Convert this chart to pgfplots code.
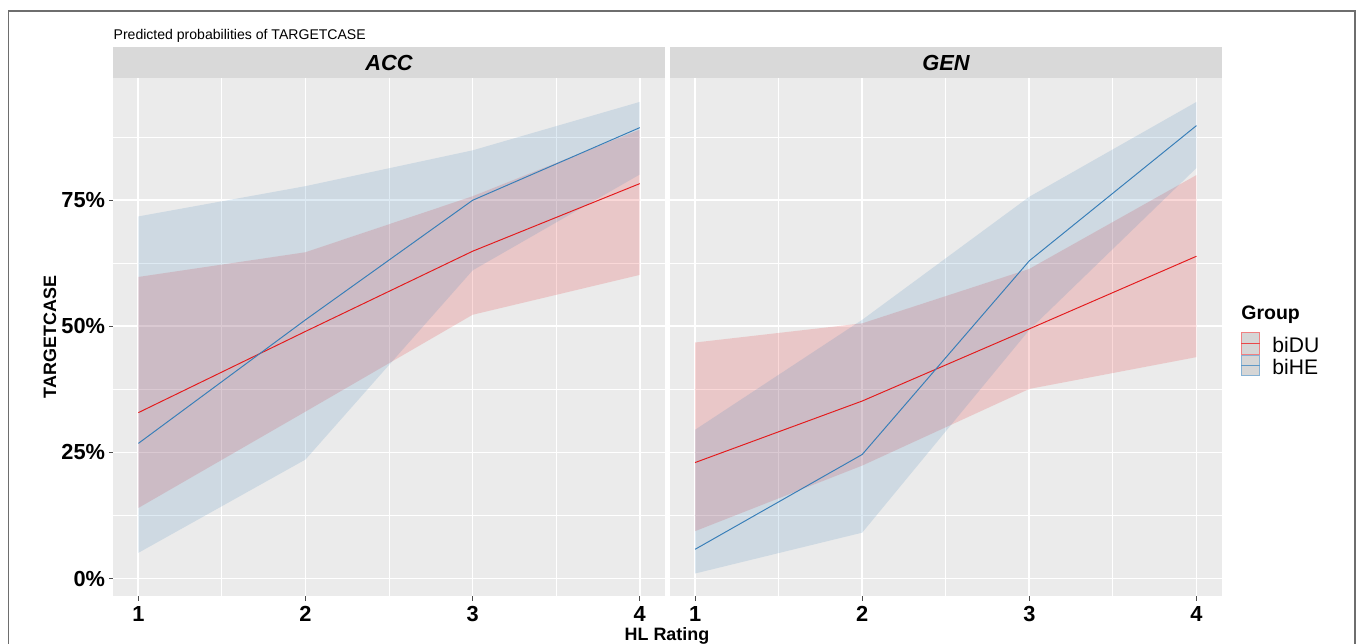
\documentclass[border=0pt]{standalone}
\usepackage{pgfplots}
\usepackage{pgfplotstable}
\usepackage{fontspec}
\setmainfont{Liberation Sans}
\pgfplotsset{compat=1.18}
\usepgfplotslibrary{fillbetween}

\definecolor{panelbg}{HTML}{EBEBEB}
\definecolor{stripbg}{HTML}{D9D9D9}
\definecolor{duRed}{HTML}{E41A1C}
\definecolor{heBlue}{HTML}{377EB8}
\definecolor{framegray}{HTML}{6E6E6E}
\definecolor{keybg}{HTML}{D6D6D6}

% predicted probabilities: r = biDU, b = biHE (line, lower, upper)
\pgfplotstableread{
x  r     rlo   rhi   b     blo   bhi
1  0.329 0.140 0.598 0.268 0.051 0.718
2  0.490 0.331 0.647 0.513 0.236 0.778
3  0.649 0.523 0.758 0.750 0.611 0.849
4  0.783 0.602 0.890 0.894 0.801 0.945
}\acc
\pgfplotstableread{
x  r     rlo   rhi   b     blo   bhi
1  0.230 0.094 0.468 0.058 0.010 0.295
2  0.352 0.224 0.506 0.246 0.091 0.513
3  0.495 0.376 0.614 0.630 0.493 0.757
4  0.639 0.439 0.800 0.898 0.814 0.945
}\gen

\newcommand\tickfont{\fontsize{12.4}{14}\selectfont\bfseries}
\newcommand\labfont{\fontsize{10.2}{12}\selectfont\bfseries}

\pgfplotsset{
  panel/.style={
    scale only axis, width=11.03cm, height=10.37cm,
    anchor=north west,
    xmin=0.85, xmax=4.15, ymin=-0.035, ymax=0.993,
    axis background/.style={fill=panelbg},
    axis line style={draw=none},
    xtick={1,2,3,4}, xticklabels={1,2,3,4},
    ytick={0,0.25,0.5,0.75},
    minor xtick={1.5,2.5,3.5},
    minor ytick={0.125,0.375,0.625,0.875},
    grid=both,
    major grid style={white, line width=1pt},
    minor grid style={white, line width=0.5pt},
    tick align=outside, tick pos=left,
    major tick length=0.09cm, minor tick length=0pt,
    tick style={gray!60!black, line width=0.5pt},
    ticklabel style={font=\tickfont, text=black},
    yticklabel style={xshift=0.05cm},
    xticklabel style={inner sep=0pt, yshift=-0.10cm},
  },
  ribbon/.style={draw=none, forget plot},
}

\begin{document}
\begin{tikzpicture}
% frame of the figure
\draw[framegray, line width=0.04cm] (0.17,-13.5) -- (0.17,-0.22) -- (27.1,-0.22) -- (27.1,-13.5);

% strips
\fill[stripbg] (2.266,-0.94) rectangle (13.30,-1.554);
\fill[stripbg] (13.40,-0.94) rectangle (24.434,-1.554);
\node[font=\fontsize{12.4}{14}\selectfont\bfseries\itshape] at (7.78,-1.25) {ACC};
\node[font=\fontsize{12.4}{14}\selectfont\bfseries\itshape] at (18.92,-1.25) {GEN};
\node[anchor=base west, font=\fontsize{8}{9}\selectfont, inner sep=0pt] at (2.266,-0.78) {Predicted probabilities of TARGETCASE};

\begin{axis}[panel, at={(2.266cm,-1.554cm)},
  yticklabels={0\%,25\%,50\%,75\%}]
\addplot[duRed, line width=0.55pt] table[x=x, y=r] {\acc};
\addplot[heBlue, line width=0.55pt] table[x=x, y=b] {\acc};
\addplot[ribbon, name path=ahi] table[x=x, y=rhi] {\acc};
\addplot[ribbon, name path=alo] table[x=x, y=rlo] {\acc};
\addplot[fill=duRed, fill opacity=0.17, draw=none] fill between[of=ahi and alo];
\addplot[ribbon, name path=bhi] table[x=x, y=bhi] {\acc};
\addplot[ribbon, name path=blo] table[x=x, y=blo] {\acc};
\addplot[fill=heBlue, fill opacity=0.16, draw=none] fill between[of=bhi and blo];
\end{axis}

\begin{axis}[panel, at={(13.40cm,-1.554cm)},
  yticklabels={}, ytick style={draw=none}]
\addplot[duRed, line width=0.55pt] table[x=x, y=r] {\gen};
\addplot[heBlue, line width=0.55pt] table[x=x, y=b] {\gen};
\addplot[ribbon, name path=ahi] table[x=x, y=rhi] {\gen};
\addplot[ribbon, name path=alo] table[x=x, y=rlo] {\gen};
\addplot[fill=duRed, fill opacity=0.17, draw=none] fill between[of=ahi and alo];
\addplot[ribbon, name path=bhi] table[x=x, y=bhi] {\gen};
\addplot[ribbon, name path=blo] table[x=x, y=blo] {\gen};
\addplot[fill=heBlue, fill opacity=0.16, draw=none] fill between[of=bhi and blo];
\end{axis}

% axis titles
\node[rotate=90, font=\labfont] at (1.0,-6.74) {TARGETCASE};
\node[anchor=base, inner sep=0pt, font=\labfont] at (13.34,-12.80) {HL Rating};

% legend
\node[anchor=base west, inner sep=0pt, font=\fontsize{11.1}{13}\selectfont\bfseries] at (24.82,-6.38) {Group};
\filldraw[fill=keybg, draw=duRed!55, line width=0.5pt] (24.82,-6.64) rectangle (25.19,-7.08);
\draw[duRed!80, line width=0.5pt] (24.82,-6.86) -- (25.19,-6.86);
\filldraw[fill=keybg, draw=heBlue!60, line width=0.5pt] (24.82,-7.10) rectangle (25.19,-7.50);
\draw[heBlue!80, line width=0.5pt] (24.82,-7.30) -- (25.19,-7.30);
\node[anchor=west, inner sep=0pt, font=\fontsize{12}{13}\selectfont] at (25.44,-6.90) {biDU};
\node[anchor=west, inner sep=0pt, font=\fontsize{12}{13}\selectfont] at (25.44,-7.34) {biHE};

\pgfresetboundingbox
\useasboundingbox (0,0) rectangle (27.2,-12.86);
\end{tikzpicture}
\end{document}
